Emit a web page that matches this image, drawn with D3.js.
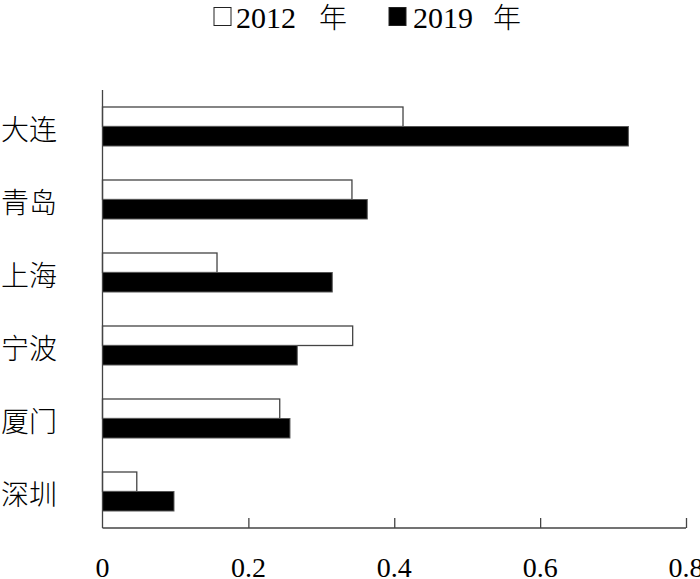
<!DOCTYPE html>
<html>
<head>
<meta charset="utf-8">
<script src="https://cdn.jsdelivr.net/npm/d3@7"></script>
<style>
  body { margin: 0; background: #fff; }
  svg { display: block; }
</style>
</head>
<body>
<svg id="chart" width="700" height="579"></svg>
<script>
// data
const cities = ['大连', '青岛', '上海', '宁波', '厦门', '深圳'];
const years = ['2012', '2019'];
const v2012 = [0.412, 0.342, 0.157, 0.343, 0.243, 0.047];
const v2019 = [0.721, 0.363, 0.315, 0.267, 0.257, 0.098];
const ticks = [0, 0.2, 0.4, 0.6, 0.8];

const svg = d3.select('#chart');
const plotLeft = 102.5, plotRight = 686, plotTop = 90, plotBottom = 528;
const cjk = '"Noto Sans CJK SC", sans-serif';
const serif = '"Liberation Serif", "DejaVu Serif", serif';

const x = d3.scaleLinear().domain([0, 0.8]).range([plotLeft, plotRight]);
const y = d3.scaleBand().domain(cities).range([plotTop, plotBottom]);
const barH = 19.5;

const rows = cities.map((c, i) => ({ city: c, a: v2012[i], b: v2019[i] }));

// 2012 bars (white)
svg.append('g').selectAll('rect')
  .data(rows).enter().append('rect')
  .attr('x', x(0))
  .attr('y', d => y(d.city) + y.bandwidth() / 2 - barH)
  .attr('width', d => x(d.a) - x(0))
  .attr('height', barH)
  .attr('fill', '#fff')
  .attr('stroke', '#444')
  .attr('stroke-width', 1.3);

// 2019 bars (black)
svg.append('g').selectAll('rect')
  .data(rows).enter().append('rect')
  .attr('x', x(0))
  .attr('y', d => y(d.city) + y.bandwidth() / 2)
  .attr('width', d => x(d.b) - x(0))
  .attr('height', barH)
  .attr('fill', '#000')
  .attr('stroke', '#555')
  .attr('stroke-width', 1);

// x axis, ticks pointing up
const xAxis = svg.append('g')
  .attr('transform', `translate(0,${plotBottom})`)
  .call(d3.axisTop(x).tickValues(ticks.slice(1)).tickSize(10).tickFormat(''));
xAxis.select('.domain').attr('d', `M${plotLeft},0H${plotRight}`).attr('stroke', '#444').attr('stroke-width', 1.3);
xAxis.selectAll('.tick line').attr('stroke', '#444').attr('stroke-width', 1.3);

// tick labels
svg.append('g').selectAll('text')
  .data(ticks).enter().append('text')
  .attr('x', d => x(d))
  .attr('y', 577)
  .attr('text-anchor', 'middle')
  .style('font-family', serif)
  .style('font-size', '28px')
  .text(d => d === 0 ? '0' : d3.format('.1f')(d));

// y axis line
svg.append('line')
  .attr('x1', plotLeft).attr('x2', plotLeft)
  .attr('y1', plotTop).attr('y2', plotBottom)
  .attr('stroke', '#444').attr('stroke-width', 1.3);

// city labels
svg.append('g').selectAll('text')
  .data(cities).enter().append('text')
  .attr('x', 1)
  .attr('y', d => y(d) + y.bandwidth() / 2 + 13)
  .style('font-family', cjk)
  .style('font-size', '28px')
  .style('font-weight', 300)
  .text(d => d);

// legend
const legend = [
  { year: years[0], box: 214, fill: '#fff', tx: 236, nx: 319 },
  { year: years[1], box: 389, fill: '#000', tx: 413, nx: 493 }
];
const lg = svg.append('g');
legend.forEach(l => {
  lg.append('rect')
    .attr('x', l.box).attr('y', 7.5)
    .attr('width', 17).attr('height', 18)
    .attr('fill', l.fill).attr('stroke', '#222').attr('stroke-width', 1);
  lg.append('text')
    .attr('x', l.tx).attr('y', 28)
    .style('font-family', serif)
    .style('font-size', '30px')
    .text(l.year);
  lg.append('text')
    .attr('x', l.nx).attr('y', 28)
    .style('font-family', cjk)
    .style('font-size', '28px')
    .style('font-weight', 300)
    .text('年');
});
</script>
</body>
</html>
